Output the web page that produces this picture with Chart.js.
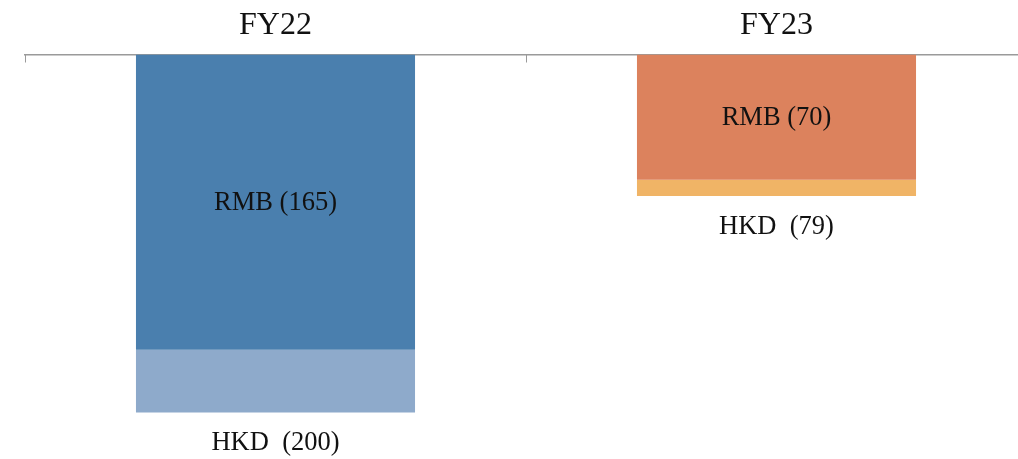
<!DOCTYPE html>
<html>
<head>
<meta charset="utf-8">
<script src="https://cdn.jsdelivr.net/npm/chart.js@4/dist/chart.umd.min.js"></script>
<style>
  html, body { margin: 0; padding: 0; background: #fff; overflow: hidden; }
  #wrap { width: 1027px; height: 459px; }
</style>
</head>
<body>
<div id="wrap"><canvas id="c" width="1027" height="459"></canvas></div>
<script>
// Funding split by currency, per financial year
const categories = ['FY22', 'FY23'];
const rmbValues = [165, 70];        // RMB portion
const hkdTotals = [200, 79];        // cumulative total including HKD
const hkdValues = hkdTotals.map((t, i) => t - rmbValues[i]);

const rmbColors = ['#4a7fae', '#dc825d'];
const hkdColors = ['#8eaacb', '#f0b466'];

const serif = '"Liberation Serif", "DejaVu Serif", serif';
const labelFont = '26.5px ' + serif;

// Writes the value labels: RMB inside the bar, HKD total below the stack
const valueLabels = {
  id: 'valueLabels',
  afterDatasetsDraw(chart) {
    const ctx = chart.ctx;
    ctx.save();
    ctx.font = labelFont;
    ctx.fillStyle = '#111111';
    ctx.textAlign = 'center';
    ctx.textBaseline = 'middle';
    const rmbMeta = chart.getDatasetMeta(0);
    const hkdMeta = chart.getDatasetMeta(1);
    rmbMeta.data.forEach((bar, i) => {
      const top = Math.min(bar.y, bar.base);
      const bottom = Math.max(bar.y, bar.base);
      ctx.fillText('RMB (' + rmbValues[i] + ')', bar.x, (top + bottom) / 2 + 1);
    });
    hkdMeta.data.forEach((bar, i) => {
      const bottom = Math.max(bar.y, bar.base);
      ctx.fillText('HKD  (' + hkdTotals[i] + ')', bar.x, bottom + 31);
    });
    ctx.restore();
  }
};

new Chart(document.getElementById('c'), {
  type: 'bar',
  data: {
    labels: categories,
    datasets: [
      { label: 'RMB', data: rmbValues.map(v => -v), backgroundColor: rmbColors, borderWidth: 0 },
      { label: 'HKD', data: hkdValues.map(v => -v), backgroundColor: hkdColors, borderWidth: 0 }
    ]
  },
  options: {
    responsive: false,
    animation: false,
    layout: { padding: { left: 25, right: 0, top: 0, bottom: 0 } },
    plugins: { legend: { display: false }, tooltip: { enabled: false } },
    datasets: { bar: { categoryPercentage: 1, barPercentage: 0.557 } },
    scales: {
      x: {
        position: 'top',
        stacked: true,
        afterFit: (scale) => { scale.height = 54.5; },
        grid: {
          offset: true,
          drawOnChartArea: false,
          drawTicks: true,
          tickLength: -8,
          color: '#9a9a9a',
          lineWidth: 1
        },
        border: { display: true, color: '#9a9a9a', width: 1.5 },
        ticks: {
          color: '#111111',
          padding: 18,
          font: { family: serif, size: 32 }
        }
      },
      y: {
        display: false,
        stacked: true,
        min: -226,
        max: 0
      }
    }
  },
  plugins: [valueLabels]
});
</script>
</body>
</html>
